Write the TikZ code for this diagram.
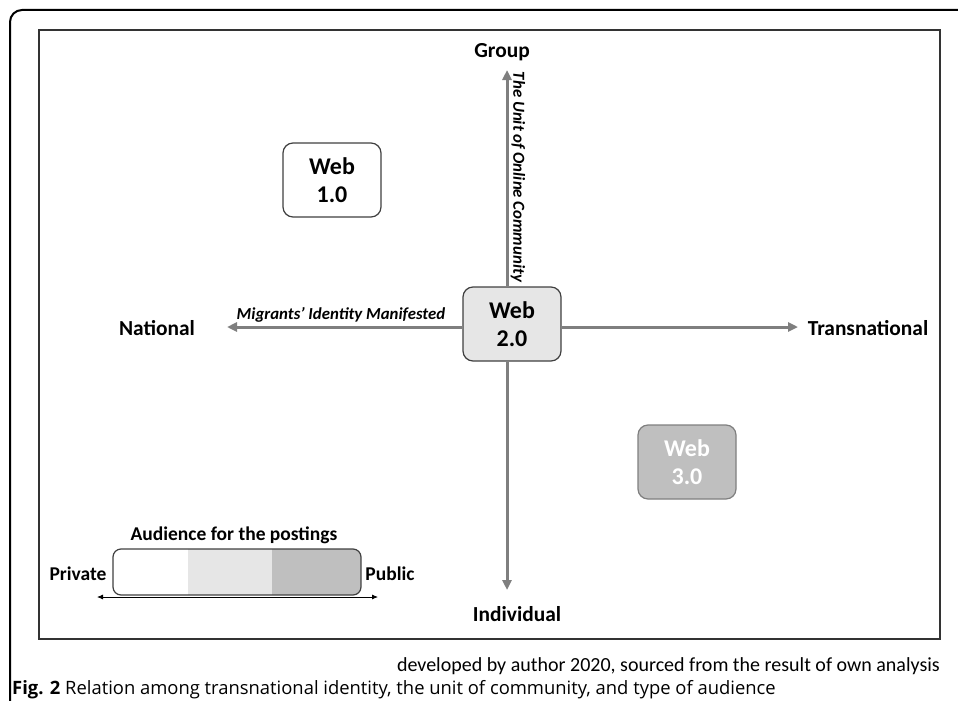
\documentclass[tikz,border=0pt]{standalone}
\usepackage{fontspec}
\setmainfont{Carlito}
\newfontfamily\capfont{Open Sans}
\usetikzlibrary{arrows.meta}
\definecolor{axisgray}{HTML}{7F7F7F}
\definecolor{boxedge}{HTML}{404040}
\definecolor{lightfill}{HTML}{E6E6E6}
\definecolor{midfill}{HTML}{BFBFBF}
\tikzset{
  axis/.style={draw=axisgray, line width=3pt, -{Triangle[length=10pt,width=9pt]}},
  webbox/.style={draw=boxedge, line width=1.2pt, rounded corners=10pt, minimum width=98pt, minimum height=74pt, align=center, font=\fontsize{24}{27.5}\selectfont\bfseries, inner sep=0pt},
  lab/.style={font=\fontsize{21.4}{25}\selectfont\bfseries, inner sep=0pt},
  axlab/.style={font=\fontsize{16.8}{20}\selectfont\bfseries\itshape, inner sep=0pt},
  small/.style={font=\fontsize{19.5}{23}\selectfont\bfseries, inner sep=0pt},
}
\begin{document}
\begin{tikzpicture}[x=1pt,y=-1pt]
\useasboundingbox (0,0) rectangle (958,701);
% outer frame
\draw[line width=2pt, rounded corners=12pt] (10,701) -- (10,10) -- (958,10);
% inner frame
\draw[line width=1.5pt, draw=black!80] (39,30) rectangle (940,639);
% web boxes
\node[webbox, fill=white] (w1) at (332,180) {Web\\1.0};
\node[webbox, fill=lightfill] (w2) at (512,324) {Web\\2.0};
\node[webbox, fill=midfill, draw=axisgray, text=white] (w3) at (687,462) {Web\\3.0};
% axis labels
\node[lab] (grp) at (502,52) {Group};
\node[lab] (ind) at (517,614) {Individual};
\node[lab] (nat) at (157,328) {National};
\node[lab] (trn) at (868,328) {Transnational};
\coordinate (upend) at (507,70);
\coordinate (downend) at (507,590);
\coordinate (leftend) at (227,327);
\coordinate (rightend) at (798,327);
\draw[axis] (w2.north -| upend) -- (upend);
\draw[axis] (w2.south -| downend) -- (downend);
\draw[axis] (w2.west |- leftend) -- (leftend);
\draw[axis] (w2.east |- rightend) -- (rightend);
\node[axlab] (mig) at (341,315) {Migrants’ Identity Manifested};
\node[axlab, rotate=-90] (unit) at (518,177) {The Unit of Online Community};
% audience bar
\begin{scope}
\clip[rounded corners=8pt] (113,549) rectangle (361,595);
\fill[white] (113,549) rectangle (188,595);
\fill[lightfill] (188,549) rectangle (272,595);
\fill[midfill] (272,549) rectangle (361,595);
\end{scope}
\node[draw=boxedge, line width=1.2pt, rounded corners=8pt, minimum width=248pt, minimum height=46pt, inner sep=0pt] (bar) at (237,572) {};
\node[small] (aud) at (234,535) {Audience for the postings};
\node[small] (priv) at (78,574) {Private};
\node[small] (pub) at (390,574) {Public};
\coordinate (pl) at (97,597);
\coordinate (pr) at (378,597);
\draw[line width=0.8pt, {Latex[length=6pt,width=5pt]}-{Latex[length=6pt,width=5pt]}] (pl) -- (pr);
% captions
\node[anchor=east, font=\fontsize{20}{23}\selectfont, inner sep=0pt] (dev) at (940,666) {developed by author 2020, sourced from the result of own analysis};
\node[anchor=west, font=\capfont\fontsize{18.4}{22}\selectfont, inner sep=0pt] (cap) at (12,690) {\textbf{Fig. 2} Relation among transnational identity, the unit of community, and type of audience};
\end{tikzpicture}
\end{document}
